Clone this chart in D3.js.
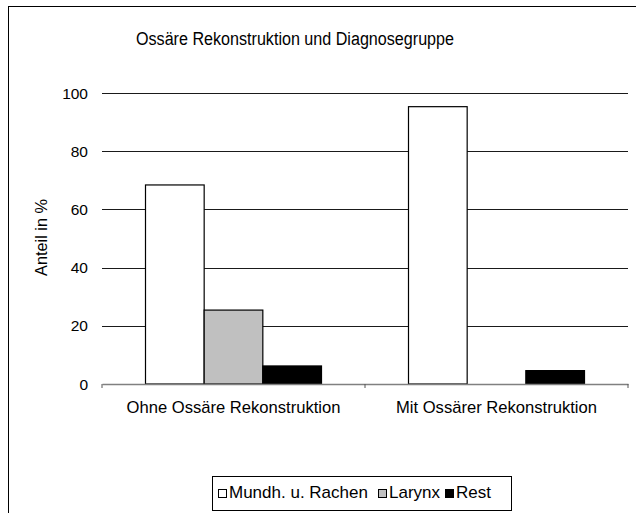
<!DOCTYPE html>
<html>
<head>
<meta charset="utf-8">
<script src="https://cdn.jsdelivr.net/npm/d3@7"></script>
<style>
  body { margin: 0; background: #fff; }
  text { font-family: "Liberation Sans", Arial, sans-serif; fill: #000; }
</style>
</head>
<body>
<div id="chart"></div>
<script>
// chart data
var categories = ["Ohne Ossäre Rekonstruktion", "Mit Ossärer Rekonstruktion"];
var seriesNames = ["Mundh. u. Rachen", "Larynx", "Rest"];
var mundhValues = [68.4, 95.3];
var larynxValues = [25.4, 0];
var restValues = [6.2, 4.6];
var yTicks = [0, 20, 40, 60, 80, 100];

var seriesColors = ["#ffffff", "#c0c0c0", "#000000"];
var allValues = [mundhValues, larynxValues, restValues];

var svgWidth = 636;
var svgHeight = 513;

// plot area
var margin = { top: 93, right: 8, bottom: 129, left: 102 };
var width = svgWidth - margin.left - margin.right;
var height = svgHeight - margin.top - margin.bottom;

var svg = d3.select("#chart")
  .append("svg")
  .attr("width", svgWidth)
  .attr("height", svgHeight);

// outer frame (only top and left edge inside the window)
svg.append("rect")
  .attr("x", 8.5)
  .attr("y", 6.5)
  .attr("width", 700)
  .attr("height", 600)
  .attr("fill", "none")
  .attr("stroke", "#000")
  .attr("stroke-width", 1);

// title
svg.append("text")
  .attr("x", 295)
  .attr("y", 45)
  .attr("text-anchor", "middle")
  .attr("textLength", 318)
  .attr("lengthAdjust", "spacingAndGlyphs")
  .style("font-size", "18px")
  .text("Ossäre Rekonstruktion und Diagnosegruppe");

var chartGroup = svg.append("g")
  .attr("transform", `translate(${margin.left}, ${margin.top})`);

var xScale = d3.scaleBand().domain(categories).range([0, width]);
var xInner = d3.scaleBand().domain(seriesNames)
  .range([43.5, xScale.bandwidth() - 43.5]);
var yScale = d3.scaleLinear().domain([0, 100]).range([height, 0]);

// grid lines
chartGroup.selectAll("line.grid")
  .data(yTicks.filter(function(t) { return t > 0; }))
  .enter().append("line")
  .attr("class", "grid")
  .attr("x1", 0)
  .attr("x2", width)
  .attr("y1", function(d) { return Math.round(yScale(d)) + 0.5; })
  .attr("y2", function(d) { return Math.round(yScale(d)) + 0.5; })
  .attr("stroke", "#1a1a1a")
  .attr("stroke-width", 1);

// y tick labels
chartGroup.selectAll("text.ytick")
  .data(yTicks)
  .enter().append("text")
  .attr("class", "ytick")
  .attr("x", -14)
  .attr("y", function(d) { return yScale(d); })
  .attr("dy", "0.36em")
  .attr("text-anchor", "end")
  .style("font-size", "15.5px")
  .text(function(d) { return d; });

// y axis label
svg.append("text")
  .attr("transform", "translate(46.5, 237.5) rotate(-90)")
  .attr("text-anchor", "middle")
  .style("font-size", "16.3px")
  .text("Anteil in %");

// bars
var barData = [];
categories.forEach(function(c, i) {
  seriesNames.forEach(function(s, j) {
    barData.push({ cat: c, series: s, value: allValues[j][i], color: seriesColors[j] });
  });
});

chartGroup.selectAll("rect.bar")
  .data(barData.filter(function(d) { return d.value > 0; }))
  .enter().append("rect")
  .attr("class", "bar")
  .attr("x", function(d) { return xScale(d.cat) + xInner(d.series); })
  .attr("y", function(d) { return yScale(d.value); })
  .attr("width", xInner.bandwidth())
  .attr("height", function(d) { return height - yScale(d.value); })
  .attr("fill", function(d) { return d.color; })
  .attr("stroke", "#000")
  .attr("stroke-width", 1.2);

// x axis
var bottomAxis = d3.axisBottom(xScale).tickSize(0).tickSizeOuter(0);
var xAxisG = chartGroup.append("g")
  .attr("transform", `translate(0, ${height})`)
  .call(bottomAxis);
xAxisG.select(".domain").attr("stroke", "#808080").attr("stroke-width", 1.5);
xAxisG.selectAll("text")
  .attr("dy", null)
  .attr("y", 29)
  .style("font-family", "'Liberation Sans', Arial, sans-serif")
  .style("font-size", "16.6px")
  .attr("fill", "#000");

// category boundary tick marks
chartGroup.selectAll("line.xtick")
  .data([0, 1, 2])
  .enter().append("line")
  .attr("class", "xtick")
  .attr("x1", function(d) { return d * xScale.step(); })
  .attr("x2", function(d) { return d * xScale.step(); })
  .attr("y1", height)
  .attr("y2", height + 4)
  .attr("stroke", "#555")
  .attr("stroke-width", 1);

// legend
var legend = svg.append("g");
legend.append("rect")
  .attr("x", 212.5)
  .attr("y", 476.5)
  .attr("width", 299)
  .attr("height", 34)
  .attr("fill", "#fff")
  .attr("stroke", "#000")
  .attr("stroke-width", 1);

var legendX = [218, 378, 445];
var ly = 498;
seriesNames.forEach(function(s, j) {
  legend.append("rect")
    .attr("x", legendX[j] + 0.5)
    .attr("y", ly - 8.5)
    .attr("width", 8)
    .attr("height", 8)
    .attr("fill", seriesColors[j])
    .attr("stroke", "#000")
    .attr("stroke-width", 1);
  legend.append("text")
    .attr("x", legendX[j] + 11)
    .attr("y", ly)
    .style("font-size", "17px")
    .text(s);
});
</script>
</body>
</html>
